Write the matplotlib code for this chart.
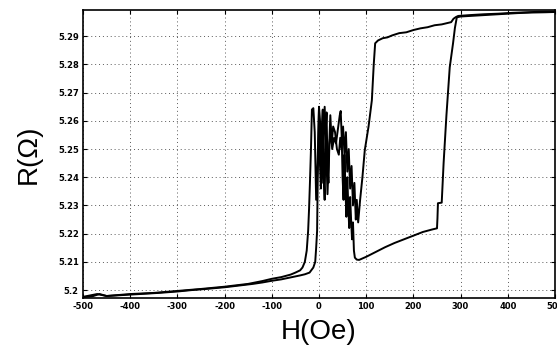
import matplotlib
matplotlib.use("Agg")
import matplotlib.pyplot as plt

# Branch sweeping field upward (-500 -> 500)
H_up = [-500, -480, -465, -450, -420, -400, -370, -340, -300, -270, -240, -200,
        -170, -140, -120, -100, -80, -60, -40, -30, -20, -12, -8, -6, -4, -3, -2,
        0, 2, 4, 6, 8, 10, 12, 14, 16, 18, 20, 22, 25, 28, 32, 36, 40, 44, 46, 48,
        50, 52, 54, 56, 58, 60, 62, 64, 66, 68, 70, 72, 74, 76, 80, 85,
        100, 120, 140, 160, 180, 200, 220, 240, 250, 251, 252, 260, 264, 270, 277,
        284, 288, 292, 300, 320, 350, 380, 400, 420, 450, 480, 500]
R_up = [5.1975, 5.1978, 5.1986, 5.1979, 5.1982, 5.1984, 5.1987, 5.1990, 5.1995,
        5.2000, 5.2004, 5.2010, 5.2016, 5.2022, 5.2027, 5.2033, 5.2038, 5.2045,
        5.2052, 5.2056, 5.2062, 5.2080, 5.2100, 5.2150, 5.2210, 5.2350, 5.2460,
        5.2645, 5.2450, 5.2360, 5.2580, 5.2640, 5.2400, 5.2320, 5.2550, 5.2630,
        5.2450, 5.2380, 5.2520, 5.2560, 5.2500, 5.2540, 5.2520, 5.2570, 5.2620,
        5.2635, 5.2550, 5.2400, 5.2320, 5.2480, 5.2360, 5.2260, 5.2400, 5.2300,
        5.2220, 5.2330, 5.2250, 5.2180, 5.2240, 5.2140, 5.2115, 5.2108, 5.2107,
        5.2118, 5.2135, 5.2152, 5.2167, 5.2180, 5.2193, 5.2206, 5.2215, 5.2219,
        5.2255, 5.2308, 5.2310, 5.2450, 5.2620, 5.2790, 5.2875, 5.2930, 5.2967,
        5.2970, 5.2972, 5.2975, 5.2978, 5.2980, 5.2982, 5.2984, 5.2985, 5.2986]

# Branch sweeping field downward (500 -> -500)
H_down = [500, 470, 440, 410, 380, 350, 320, 295, 290, 285, 280, 270, 260, 245,
          230, 215, 200, 185, 170, 155, 145, 135, 125, 119, 116, 112, 105, 97, 92,
          87, 83, 80, 78, 75, 72, 69, 66, 63, 60, 57, 54, 51, 48, 45, 42, 38, 34,
          30, 27, 24, 21, 18, 15, 12, 9, 6, 3, 0, -3, -6, -9, -12, -15, -17, -19,
          -21, -23, -26, -30, -35, -40, -50, -60, -80, -100, -120, -150, -200,
          -250, -300, -350, -400, -450, -470, -500]
R_down = [5.2988, 5.2987, 5.2985, 5.2983, 5.2980, 5.2978, 5.2975, 5.2972, 5.2968,
          5.2962, 5.2950, 5.2946, 5.2942, 5.2939, 5.2932, 5.2928, 5.2922, 5.2914,
          5.2911, 5.2903, 5.2896, 5.2893, 5.2885, 5.2875, 5.2800, 5.2673, 5.2580,
          5.2496, 5.2400, 5.2318, 5.2240, 5.2320, 5.2250, 5.2380, 5.2300, 5.2440,
          5.2360, 5.2500, 5.2420, 5.2560, 5.2480, 5.2580, 5.2500, 5.2540, 5.2480,
          5.2500, 5.2560, 5.2580, 5.2520, 5.2620, 5.2480, 5.2340, 5.2520, 5.2650,
          5.2500, 5.2380, 5.2580, 5.2650, 5.2450, 5.2320, 5.2560, 5.2645, 5.2640,
          5.2500, 5.2390, 5.2290, 5.2210, 5.2140, 5.2100, 5.2080, 5.2070, 5.2062,
          5.2055, 5.2046, 5.2040, 5.2032, 5.2022, 5.2012, 5.2004, 5.1997, 5.1990,
          5.1986, 5.1979, 5.1986, 5.1976]

x_ticks = [-500, -400, -300, -200, -100, 0, 100, 200, 300, 400, 500]
y_ticks = [5.20, 5.21, 5.22, 5.23, 5.24, 5.25, 5.26, 5.27, 5.28, 5.29]
y_tick_labels = ["5.2", "5.21", "5.22", "5.23", "5.24", "5.25", "5.26", "5.27", "5.28", "5.29"]

fig = plt.figure(figsize=(5.57, 3.55), dpi=100)
ax = fig.add_axes([0.149, 0.1606, 0.8474, 0.8112])

ax.plot(H_up, R_up, color="black", lw=1.4)
ax.plot(H_down, R_down, color="black", lw=1.4)

ax.set_xlim(-500, 500)
ax.set_ylim(5.1972, 5.2993)
ax.set_xticks(x_ticks)
ax.set_xticklabels([str(t) for t in x_ticks], fontsize=6, fontweight="bold")
ax.set_yticks(y_ticks)
ax.set_yticklabels(y_tick_labels, fontsize=6, fontweight="bold")
ax.tick_params(direction="in", length=3, width=0.8, right=True, top=True, pad=3)
ax.grid(True, linestyle=(0, (1, 3)), color="0.35", linewidth=0.7)
for s in ax.spines.values():
    s.set_linewidth(1.2)

ax.set_xlabel("H(Oe)", fontsize=20, family="Liberation Sans", labelpad=6)
ax.set_ylabel("R(Ω)", fontsize=20, family="Liberation Sans", labelpad=12)

fig.savefig("out.png", dpi=100)
